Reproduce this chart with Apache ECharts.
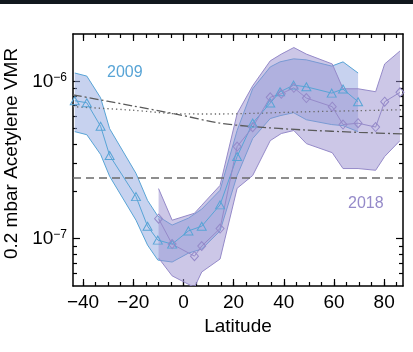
<!DOCTYPE html>
<html>
<head>
<meta charset="utf-8">
<script src="https://cdn.jsdelivr.net/npm/echarts@6/dist/echarts.min.js"></script>
<style>
  html, body { margin: 0; padding: 0; background: #fff; }
  #chart { width: 413px; height: 352px; }
</style>
</head>
<body>
<div id="chart"></div>
<script>
// 2009 retrieval (triangles) and its uncertainty envelope
const lat2009 = [-43.3, -38.5, -33, -29.4, -18.9, -14.3, -10.2, -4.5, 2.0, 7.3, 14.6, 21.4, 27.6, 34.6, 38.5, 43.9, 49.0, 59.1, 63.6, 69.6];
const mean2009 = [7.53e-7, 7.31e-7, 5.18e-7, 3.38e-7, 1.85e-7, 1.20e-7, 9.79e-8, 9.23e-8, 1.12e-7, 1.20e-7, 1.64e-7, 3.33e-7, 5.43e-7, 7.28e-7, 8.58e-7, 9.46e-7, 9.23e-7, 8.42e-7, 8.93e-7, 7.42e-7];
const low2009 = [4.79e-7, 4.58e-7, 3.43e-7, 2.49e-7, 1.31e-7, 9.10e-8, 7.31e-8, 7.10e-8, 8.09e-8, 8.58e-8, 1.12e-7, 2.52e-7, 4.33e-7, 5.80e-7, 6.05e-7, 6.32e-7, 5.70e-7, 5.31e-7, 5.23e-7, 4.79e-7];
const high2009 = [1.13e-6, 1.08e-6, 7.86e-7, 5.00e-7, 2.60e-7, 1.75e-7, 1.39e-7, 1.22e-7, 1.35e-7, 1.54e-7, 2.03e-7, 4.87e-7, 8.97e-7, 1.235e-6, 1.33e-6, 1.39e-6, 1.37e-6, 1.25e-6, 1.33e-6, 1.13e-6];

// 2018 retrieval (diamonds) and its envelope
const lat2018 = [-9.9, -4.5, 4.4, 7.3, 14.6, 21.4, 27.6, 34.6, 39.0, 44.0, 49.0, 59.3, 63.6, 69.6, 76.6, 80.2, 86.3];
const mean2018 = [1.34e-7, 9.23e-8, 7.74e-8, 8.97e-8, 1.16e-7, 3.85e-7, 5.11e-7, 7.92e-7, 8.34e-7, 9.10e-7, 7.83e-7, 6.90e-7, 5.31e-7, 5.42e-7, 5.12e-7, 7.42e-7, 8.51e-7];
const low2018 = [7.53e-8, 5.80e-8, 4.90e-8, 6.14e-8, 7.42e-8, 2.09e-7, 2.52e-7, 4.20e-7, 4.66e-7, 4.87e-7, 4.02e-7, 3.52e-7, 2.79e-7, 2.79e-7, 2.72e-7, 3.33e-7, 4.20e-7];
const high2018 = [2.08e-7, 1.31e-7, 1.45e-7, 1.63e-7, 2.18e-7, 6.23e-7, 9.37e-7, 1.35e-6, 1.49e-6, 1.64e-6, 1.49e-6, 1.29e-6, 8.97e-7, 8.97e-7, 8.59e-7, 1.29e-6, 1.56e-6];

// model / reference curves
const modelLat = [-44, -20, -2, 14, 28, 48, 70, 87.5];
const modelDotted = [6.90e-7, 6.55e-7, 6.22e-7, 6.20e-7, 6.26e-7, 6.40e-7, 6.51e-7, 6.60e-7];
const modelDashDot = [8.21e-7, 6.97e-7, 6.15e-7, 5.44e-7, 5.15e-7, 4.91e-7, 4.74e-7, 4.63e-7];
const refLat = [-44, 87.5];
const refLevel = [2.43e-7, 2.43e-7];

// axes
const xMin = -44;
const xMax = 87.5;
const yMin = 5e-8;
const yMax = 2e-6;
const xMajorTicks = [-40, -20, 0, 20, 40, 60, 80];
const xMinorTicks = [-40, -35, -30, -25, -20, -15, -10, -5, 0, 5, 10, 15, 20, 25, 30, 35, 40, 45, 50, 55, 60, 65, 70, 75, 80, 85];
const yMajorTicks = [1e-7, 1e-6];
const yMinorTicks = [6e-8, 7e-8, 8e-8, 9e-8, 2e-7, 3e-7, 4e-7, 5e-7, 6e-7, 7e-7, 8e-7, 9e-7];

const BLUE = "#58a4d6";
const PURPLE = "#958ac9";
const FONT = "'Liberation Sans', Arial, Helvetica, sans-serif";

function pairs(xs, ys) {
  return xs.map((x, i) => [x, ys[i]]);
}

function xAxisDef(position, ticks, tickLen, withLine, withLabel) {
  return {
    type: "value",
    min: xMin,
    max: xMax,
    position,
    axisLine: { show: withLine, onZero: false, lineStyle: { color: "#000", width: 1.5 } },
    axisTick: { show: true, inside: true, length: tickLen, customValues: ticks, lineStyle: { color: "#000", width: 1.2 } },
    axisLabel: withLabel
      ? {
          show: true,
          customValues: xMajorTicks,
          margin: 7,
          color: "#000",
          fontSize: 19,
          fontFamily: FONT,
          formatter: (v) => (v < 0 ? "\u2212" + Math.abs(v) : String(v))
        }
      : { show: false },
    splitLine: { show: false }
  };
}

function yAxisDef(position, ticks, tickLen, withLine, withLabel) {
  return {
    type: "log",
    logBase: 10,
    min: yMin,
    max: yMax,
    position,
    axisLine: { show: withLine, onZero: false, lineStyle: { color: "#000", width: 1.5 } },
    axisTick: { show: true, inside: true, length: tickLen, customValues: ticks, lineStyle: { color: "#000", width: 1.2 } },
    axisLabel: withLabel
      ? {
          show: true,
          customValues: yMajorTicks,
          margin: 6,
          formatter: (v) => "{b|10}{s|\u2212" + Math.abs(Math.round(Math.log10(v))) + "}",
          rich: {
            b: { fontSize: 19, fontFamily: FONT, color: "#000" },
            s: { fontSize: 12, fontFamily: FONT, color: "#000", verticalAlign: "top" }
          }
        }
      : { show: false },
    splitLine: { show: false },
    minorTick: { show: false }
  };
}

// envelope: filled polygon (upper edge forward, lower edge back) drawn through the axes
function band(lat, lo, hi, lineColor, fill, alpha) {
  return {
    type: "custom",
    clip: true,
    data: [[lat[0], lo[0]]],
    z: 1,
    renderItem(params, api) {
      const upper = lat.map((x, i) => api.coord([x, hi[i]]));
      const lower = lat.map((x, i) => api.coord([x, lo[i]]));
      const ring = upper.concat(lower.slice().reverse());
      return {
        type: "group",
        children: [
          { type: "polygon", shape: { points: ring }, style: { fill, opacity: alpha } },
          { type: "polyline", shape: { points: upper }, style: { stroke: lineColor, lineWidth: 1, fill: null } },
          { type: "polyline", shape: { points: lower }, style: { stroke: lineColor, lineWidth: 1, fill: null } }
        ]
      };
    }
  };
}

const chart = echarts.init(document.getElementById("chart"), null, { renderer: "canvas" });

const xAxes = [
  xAxisDef("bottom", xMajorTicks, 7, true, true),
  xAxisDef("bottom", xMinorTicks, 4, false, false),
  xAxisDef("top", xMajorTicks, 7, true, false),
  xAxisDef("top", xMinorTicks, 4, false, false)
];
xAxes[0].name = "Latitude";
xAxes[0].nameLocation = "middle";
xAxes[0].nameGap = 29;
xAxes[0].nameTextStyle = { fontSize: 19, fontFamily: FONT, color: "#000" };

const yAxes = [
  yAxisDef("left", yMajorTicks, 7, true, true),
  yAxisDef("left", yMinorTicks, 4, false, false),
  yAxisDef("right", yMajorTicks, 7, true, false),
  yAxisDef("right", yMinorTicks, 4, false, false)
];
yAxes[0].name = "0.2 mbar Acetylene VMR";
yAxes[0].nameLocation = "middle";
yAxes[0].nameGap = 50;
yAxes[0].nameTextStyle = { fontSize: 19, fontFamily: FONT, color: "#000", padding: [0, 0, 0, 13] };

chart.setOption({
  animation: false,
  backgroundColor: "#fff",
  grid: { left: 73, right: 10, top: 34, bottom: 66, containLabel: false, outerBoundsMode: "none" },
  xAxis: xAxes,
  yAxis: yAxes,
  graphic: [
    { type: "rect", left: 0, top: 0, z: 100, shape: { width: 413, height: 4 }, style: { fill: "#11171d" } },
    { type: "text", left: 107, top: 65, style: { text: "2009", fill: BLUE, font: "16px " + FONT } },
    { type: "text", left: 348, top: 196, style: { text: "2018", fill: PURPLE, font: "16px " + FONT } }
  ],
  series: [
    band(lat2009, low2009, high2009, BLUE, "#8fa6e0", 0.5),
    band(lat2018, low2018, high2018, PURPLE, "#9a8fd0", 0.5),
    {
      type: "line",
      data: pairs(refLat, refLevel),
      symbol: "none",
      lineStyle: { color: "#6a6a6a", width: 1.5, type: [8, 5] },
      z: 3
    },
    {
      type: "line",
      data: pairs(modelLat, modelDotted),
      symbol: "none",
      smooth: 0.3,
      lineStyle: { color: "#6a6a6a", width: 1.3, type: [1.3, 3] },
      z: 3
    },
    {
      type: "line",
      data: pairs(modelLat, modelDashDot),
      symbol: "none",
      smooth: 0.3,
      lineStyle: { color: "#5a5a5a", width: 1.3, type: [9, 3, 2, 3] },
      z: 3
    },
    {
      type: "line",
      data: pairs(lat2009, mean2009),
      symbol: "triangle",
      symbolSize: [9, 8],
      lineStyle: { color: BLUE, width: 1 },
      itemStyle: { color: "rgba(255,255,255,0)", borderColor: BLUE, borderWidth: 1 },
      z: 5
    },
    {
      type: "line",
      data: pairs(lat2018, mean2018),
      symbol: "diamond",
      symbolSize: [8, 9],
      lineStyle: { color: PURPLE, width: 1 },
      itemStyle: { color: "rgba(255,255,255,0)", borderColor: PURPLE, borderWidth: 1 },
      z: 5
    }
  ]
});
</script>
</body>
</html>
